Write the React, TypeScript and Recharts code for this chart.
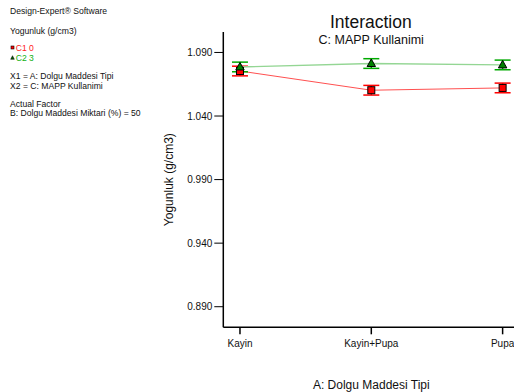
import React from 'react';
import { ComposedChart, Line, XAxis, YAxis, ErrorBar } from 'recharts';

// Factor A levels (x axis)
const categories = ['Kayin', 'Kayin+Pupa', 'Pupa'];
// Predicted density for C1 (MAPP = 0) and C2 (MAPP = 3)
const c1Values = [1.0754, 1.0603, 1.0621];
const c2Values = [1.0786, 1.0813, 1.0802];
// Half-width of the LSD bars
const c1Errors = [0.0038, 0.0038, 0.0038];
const c2Errors = [0.0038, 0.0038, 0.0038];
// Y axis ticks
const yTicks = [0.89, 0.94, 0.99, 1.04, 1.09];

const data = categories.map((name, i) => ({
  x: i,
  name,
  c1: c1Values[i],
  c1Err: c1Errors[i],
  c2: c2Values[i],
  c2Err: c2Errors[i],
}));

const FONT = '"Liberation Sans", Arial, sans-serif';

const SquareDot = (props: any) => {
  const { cx, cy } = props;
  if (cx == null || cy == null) return null;
  return <rect x={cx - 3.5} y={cy - 3.5} width={7} height={7} fill="#ff0000" stroke="#000" strokeWidth={1} />;
};

const TriangleDot = (props: any) => {
  const { cx, cy } = props;
  if (cx == null || cy == null) return null;
  return (
    <path
      d={`M${cx},${cy - 4.5} L${cx + 4.2},${cy + 3} L${cx - 4.2},${cy + 3} Z`}
      fill="#008000"
      stroke="#000"
      strokeWidth={1}
    />
  );
};

const infoLines = [
  { text: 'Design-Expert® Software', y: 14.3, color: '#111' },
  { text: 'Yogunluk (g/cm3)', y: 33.7, color: '#111' },
  { text: 'X1 = A: Dolgu Maddesi Tipi', y: 79.3, color: '#111' },
  { text: 'X2 = C: MAPP Kullanimi', y: 89.3, color: '#111' },
  { text: 'Actual Factor', y: 106.7, color: '#111' },
  { text: 'B: Dolgu Maddesi Miktari (%) = 50', y: 116, color: '#111' },
];

export default function App() {
  return (
    <div
      style={{
        position: 'absolute',
        left: 0,
        top: 0,
        width: 514,
        height: 392,
        overflow: 'hidden',
        background: '#fff',
        fontFamily: FONT,
      }}
    >
      <ComposedChart
        width={540}
        height={392}
        data={data}
        margin={{ top: 32, right: 20.7, bottom: 0, left: 114.7 }}
        style={{ fontFamily: FONT }}
      >
        <XAxis
          dataKey="x"
          type="number"
          domain={[-0.127, 2.127]}
          ticks={[0, 1, 2]}
          tickFormatter={(v: number) => categories[v] ?? ''}
          tickSize={7}
          tickMargin={6}
          height={64.7}
          axisLine={{ stroke: '#000', strokeWidth: 1.5 }}
          tickLine={{ stroke: '#000', strokeWidth: 1.5 }}
          tick={{ fill: '#111', fontSize: 10, fontFamily: FONT }}
          allowDataOverflow
          label={{
            value: 'A: Dolgu Maddesi Tipi',
            position: 'insideBottom',
            offset: 3,
            fill: '#111',
            fontSize: 12,
            fontFamily: FONT,
          }}
        />
        <XAxis
          xAxisId="top"
          dataKey="x"
          type="number"
          orientation="top"
          domain={[-0.127, 2.127]}
          tick={false}
          tickLine={false}
          height={0}
          axisLine={{ stroke: '#000', strokeWidth: 1.5 }}
        />
        <YAxis
          type="number"
          domain={[0.8738, 1.1061]}
          ticks={yTicks}
          tickFormatter={(v: number) => v.toFixed(3)}
          tickSize={9}
          tickMargin={2}
          width={108.6}
          allowDataOverflow
          axisLine={{ stroke: '#000', strokeWidth: 1.5 }}
          tickLine={{ stroke: '#000', strokeWidth: 1 }}
          tick={{ fill: '#111', fontSize: 10, fontFamily: FONT }}
          label={{
            value: 'Yogunluk (g/cm3)',
            angle: -90,
            position: 'center',
            fill: '#111',
            fontSize: 12,
            fontFamily: FONT,
          }}
        />
        <Line
          dataKey="c1"
          stroke="#ff5050"
          strokeWidth={1}
          isAnimationActive={false}
          dot={<SquareDot />}
          activeDot={false}
        >
          <ErrorBar dataKey="c1Err" width={8} stroke="#ff0000" strokeWidth={1.5} direction="y" />
        </Line>
        <Line
          dataKey="c2"
          stroke="#94d694"
          strokeWidth={1.4}
          isAnimationActive={false}
          dot={<TriangleDot />}
          activeDot={false}
        >
          <ErrorBar dataKey="c2Err" width={8} stroke="#00aa00" strokeWidth={1.5} direction="y" />
        </Line>
      </ComposedChart>

      <svg
        width={514}
        height={392}
        style={{ position: 'absolute', left: 0, top: 0, pointerEvents: 'none' }}
      >
        <g fontFamily={FONT}>
          {infoLines.map((l) => (
            <text key={l.text} x={10} y={l.y} fontSize={8.6} fill={l.color}>
              {l.text}
            </text>
          ))}
          <rect x={11} y={46} width={3} height={3} fill="#ff0000" stroke="#000" strokeWidth={0.6} />
          <text x={15.7} y={51} fontSize={8.6} fill="#ff2020">C1 0</text>
          <path d="M12.5,55.7 L14.3,59.3 L10.7,59.3 Z" fill="#006000" stroke="#000" strokeWidth={0.5} />
          <text x={15.7} y={61} fontSize={8.6} fill="#10b010">C2 3</text>
          <text x={370.8} y={28.3} fontSize={17.5} textAnchor="middle" fill="#111">Interaction</text>
          <text x={371.2} y={44.3} fontSize={12.5} textAnchor="middle" fill="#111">C: MAPP Kullanimi</text>
        </g>
      </svg>
    </div>
  );
}
